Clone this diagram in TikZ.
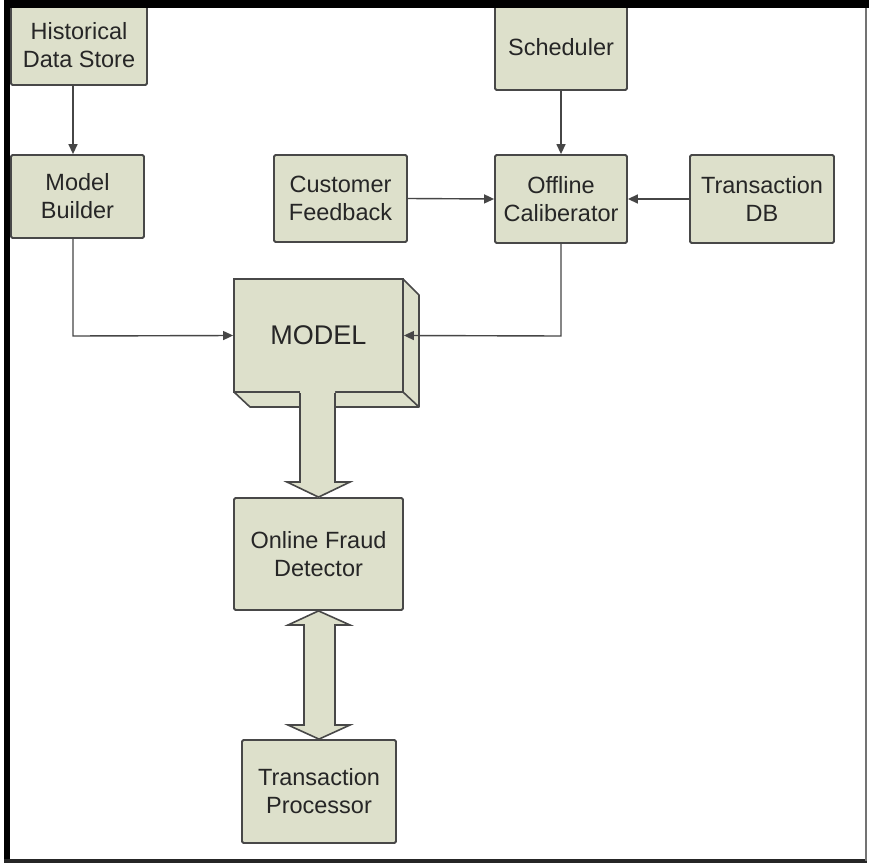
\documentclass[tikz,border=0pt]{standalone}
\usepackage{fontspec}
\setmainfont{Liberation Sans}
\usetikzlibrary{arrows.meta}
\definecolor{boxfill}{RGB}{221,224,203}
\definecolor{boxline}{RGB}{72,72,72}
\definecolor{wireline}{RGB}{70,70,70}
\tikzset{
  blockbox/.style={draw=boxline, line width=1.8pt, fill=boxfill, rounded corners=1.5pt,
    align=center, inner sep=0pt, font=\fontsize{23.5}{28}\selectfont, text=black!85},
  wire/.style={draw=wireline, line width=1.4pt,
    -{Triangle[length=10pt,width=9pt]}},
  fatarrow/.style={fill=boxfill, draw=boxline, line width=1.6pt, line join=miter},
}
\begin{document}
\begin{tikzpicture}[x=1pt,y=-1pt]
\useasboundingbox (0,0) rectangle (869,864);
\fill[white] (0,0) rectangle (869,864);

% plain boxes
\node[blockbox, minimum width=136pt, minimum height=80pt] (hist) at (79,45) {Historical\\Data Store};
\node[blockbox, minimum width=133pt, minimum height=83pt] (mb) at (77.5,196.5) {Model\\Builder};
\node[blockbox, minimum width=132pt, minimum height=85pt] (sched) at (561,47.5) {Scheduler};
\node[blockbox, minimum width=132pt, minimum height=88pt] (offl) at (561,199) {Offline\\Caliberator};
\node[blockbox, minimum width=144pt, minimum height=88pt] (tdb) at (762,199) {Transaction\\DB};
\node[blockbox, minimum width=133pt, minimum height=87pt] (cf) at (340.5,198.5) {Customer\\Feedback};

% MODEL: extruded block, depth faces drawn first
\fill[boxfill, draw=boxline, line width=1.6pt, line join=round]
  (403,279) -- (419,295) -- (419,407) -- (250,407) -- (234,392) -- (403,392) -- cycle;
\draw[boxline, line width=1.6pt] (403,392) -- (419,407);
\node[blockbox, rounded corners=0pt, minimum width=169pt, minimum height=113pt,
      font=\fontsize{27}{32}\selectfont] (model) at (318.5,335.5) {MODEL};

\node[blockbox, minimum width=169pt, minimum height=112pt] (ofd) at (318.5,554) {Online Fraud\\Detector};
\node[blockbox, minimum width=154pt, minimum height=103pt] (tp) at (319,791.5) {Transaction\\Processor};

% thin connectors
\draw[wire] ([xshift=-6pt]hist.south) -- ([xshift=-4.5pt]mb.north);
\draw[wire] (sched.south) -- (offl.north);
\draw[wire] (cf.east) -- (offl.west);
\draw[wire] (tdb.west) -- (offl.east);
\coordinate (mbturn) at (73,336);
\coordinate (ofturn) at (561,336);
\draw[wire] ([xshift=-4.5pt]mb.south) -- (mbturn) -- (model.west);
\draw[wire] (offl.south) -- (ofturn) -- (model.east);

% wide arrow from MODEL down to the detector
\fill[boxfill] (300,391) -- (300,482) -- (287,482) -- (318.5,498) -- (350,482) -- (335,482) -- (335,391) -- cycle;
\draw[boxline, line width=1.6pt, line join=miter]
  (300,393) -- (300,482) -- (287,482) -- (ofd.north) -- (350,482) -- (335,482) -- (335,393);

% two-headed wide arrow between detector and processor
\draw[fatarrow] (ofd.south) -- (350,625) -- (335,625) -- (335,725) -- (350,725)
  -- (tp.north) -- (288,725) -- (304,725) -- (304,625) -- (288,625) -- cycle;

% frame
\fill[black] (4,0) rectangle (869,8.5);
\fill[black] (3.5,0) rectangle (10,863);
\fill[black!85] (4,859) rectangle (867,862.5);
\draw[black!55, line width=1.2pt] (866,8) -- (866,861);
\end{tikzpicture}
\end{document}
